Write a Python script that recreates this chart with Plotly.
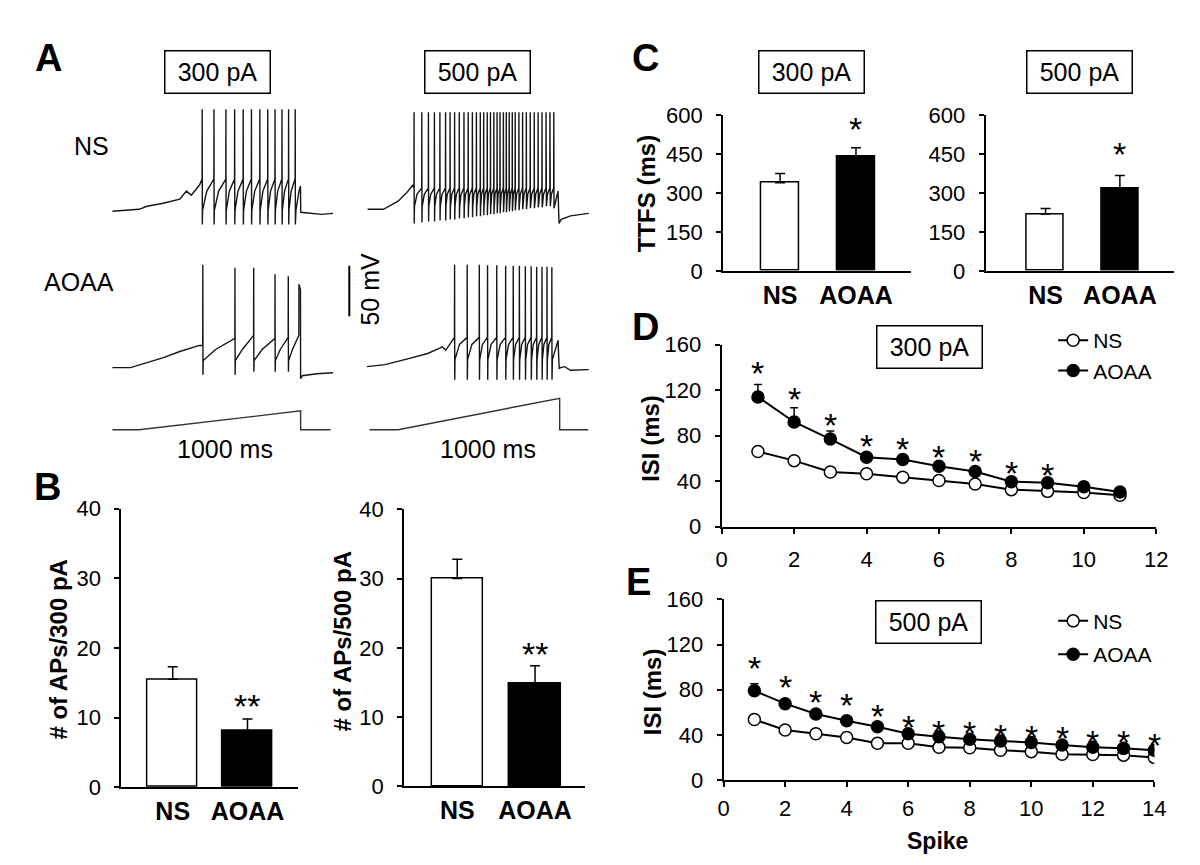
import plotly.graph_objects as go

W, H = 1200, 865
FONT = "Liberation Sans, Arial, sans-serif"

# ---------------- panel A : example traces (time in ms from ramp onset, mV) ----------------
ns300_pre_t = [-165, 0, 49, 150, 252, 293, 323, 374]
ns300_pre_v = [-65, -63, -60, -57, -53, -45, -49, -39]
ns300_spk_t = [390, 463, 537, 591, 644, 695, 747, 796, 841, 884, 925, 966]
ns300_post_t = [967.6, 971, 990, 999, 1001, 1060, 1130, 1201]
ns300_post_v = [-78, -64, -45, -40, -66, -67, -68, -67]

ns500_pre_t = [-189, -91, 0, 51, 91]
ns500_pre_v = [-63, -63, -55, -47, -39]
ns500_spk_t = [98, 146, 187, 224, 258, 293, 321, 349, 378, 407, 433, 459, 484, 508, 529,
               551, 571, 592, 612, 630, 651, 669, 687, 706, 724, 747, 770, 793, 817, 842,
               866, 890, 915, 939, 963]
ns500_trough = [-77, -76, -75, -75, -74, -74, -73, -73, -72, -72, -71, -71, -70, -70, -69,
                -69, -68, -68, -67, -67, -66, -66, -65, -65, -64, -64, -63, -63, -62, -62,
                -61, -61, -60, -60, -60]
ns500_post_t = [965, 990, 996, 1010, 1067, 1180]
ns500_post_v = [-62, -45, -77, -73, -69.5, -67]

aoaa300_pre_t = [-165, -53, 151, 252, 374]
aoaa300_pre_v = [-65, -65, -55, -49, -43]
aoaa300_spk_t = [394, 593, 709, 841, 923, 989]
aoaa300_thr = [-43, -36, -33, -36, -35, -33]
aoaa300_peak = [37, 34, 34, 27.6, 25.4, 17.7]
aoaa300_trough = [-72, -72, -69, -69, -69, -76]
aoaa300_post_t = [999, 1000, 1010, 1100, 1201]
aoaa300_post_v = [12, -76, -73, -71, -70]

aoaa500_pre_t = [-193, -81, 41, 183, 254, 274, 295, 335]
aoaa500_pre_v = [-64, -62, -57, -51, -46, -44.5, -47.7, -38]
aoaa500_spk_t = [349, 427, 502, 553, 610, 665, 712, 750, 787, 823, 857, 890, 921, 951]
aoaa500_peak = [37, 37, 37, 36.5, 36.5, 36, 36, 36, 35.5, 35.5, 35, 35, 35, 34.5]
aoaa500_post_t = [952.6, 955, 990, 997, 1005, 1030, 1067, 1180]
aoaa500_post_v = [-77, -57, -38, -66, -65, -64, -67.6, -67]

ramp_t300 = [-165, 0, 1000, 1000, 1185]
ramp_i300 = [0, 0, 300, 0, 0]
ramp_t500 = [-177, 0, 1000, 1000, 1177]
ramp_i500 = [0, 0, 500, 0, 0]

scale_bar_t = -302
scale_bar_base = -14
scale_bar_mv = 50

# ---------------- panel B : number of APs ----------------
groups = ["NS", "AOAA"]
aps300_mean = [15.5, 8.1]
aps300_err = [1.8, 1.7]
aps500_mean = [30.0, 14.9]
aps500_err = [2.8, 2.5]
aps300_star = 13.1
aps500_star = 20.5

# ---------------- panel C : time to first spike ----------------
ttfs300_mean = [340, 441]
ttfs300_err = [36, 34]
ttfs500_mean = [219, 320]
ttfs500_err = [22, 48]
ttfs300_star = 585
ttfs500_star = 490

# ---------------- panel D / E : ISI ----------------
d_spike = [1, 2, 3, 4, 5, 6, 7, 8, 9, 10, 11]
d_ns = [66, 58, 48, 46.5, 43.5, 40.5, 37.5, 32.5, 31, 30, 27.5]
d_ns_err = [2.5, 2, 2, 2, 2, 2, 2, 2, 1.5, 1.5, 1.5]
d_aoaa = [114, 92, 77, 61, 59, 53, 48.5, 39.5, 38.5, 35, 30.5]
d_aoaa_err = [11, 12.5, 7, 3, 3, 3.5, 3, 2.5, 2.5, 2, 2]
d_star = [143.8, 120.6, 97.9, 79.4, 77.4, 70.4, 66.1, 56.2, 53.9]

e_spike = [1, 2, 3, 4, 5, 6, 7, 8, 9, 10, 11, 12, 13, 14]
e_ns = [53.6, 44.4, 41, 37.8, 32.7, 32.7, 29, 28.7, 26.4, 25.2, 22.9, 22.7, 22.1, 20.1]
e_ns_err = [2, 2, 1.5, 1.5, 1.5, 1.5, 1.5, 1.5, 1.5, 1.5, 1.5, 1.5, 1.5, 1.5]
e_aoaa = [79.1, 67.7, 58.5, 52.5, 47.3, 41, 38.4, 36.1, 34.7, 33.3, 31, 29, 28.1, 26.4]
e_aoaa_err = [6.3, 3, 2.5, 2, 2, 2, 2, 2, 2, 2, 2, 2, 2, 2]
e_star = [107.8, 91.2, 78.3, 75.4, 65.4, 56.2, 51.6, 51, 48.2, 46.7, 46.2, 43, 42.4, 40.1]


def pick(v, i):
    return v[i] if isinstance(v, list) else v


def spike_trace(pre_t, pre_v, spk_t, thr, peak, trough, ahp, mid, post_t, post_v):
    # threshold -> peak -> trough -> after-hyperpolarisation -> recovery to next threshold
    t, v = list(pre_t), list(pre_v)
    for i, ts in enumerate(spk_t):
        t += [ts, ts + 0.6]
        v += [pick(thr, i), pick(peak, i)]
        if i + 1 < len(spk_t):
            nxt = spk_t[i + 1]
            t += [ts + 1.6, ts + 3, ts + 0.4 * (nxt - ts)]
            v += [pick(trough, i), ahp, mid]
    return t + list(post_t), v + list(post_v)


def dom_x(left, right):
    return [left / W, right / W]


def dom_y(top, bottom):
    return [1 - bottom / H, 1 - top / H]


fig = go.Figure()
trace_line = dict(color="#151515", width=1.4)

voltage = [
    ("x", "y", spike_trace(ns300_pre_t, ns300_pre_v, ns300_spk_t, -33, 36, -78, -64, -45,
                           ns300_post_t, ns300_post_v)),
    ("x2", "y2", spike_trace(ns500_pre_t, ns500_pre_v, ns500_spk_t, -42, 33, ns500_trough, -60, -48,
                             ns500_post_t, ns500_post_v)),
    ("x3", "y3", spike_trace(aoaa300_pre_t, aoaa300_pre_v, aoaa300_spk_t, aoaa300_thr, aoaa300_peak,
                             aoaa300_trough, -58, -47, aoaa300_post_t, aoaa300_post_v)),
    ("x4", "y4", spike_trace(aoaa500_pre_t, aoaa500_pre_v, aoaa500_spk_t, -35, aoaa500_peak, -77,
                             -57, -42, aoaa500_post_t, aoaa500_post_v)),
]
for xa, ya, (tt, vv) in voltage:
    fig.add_trace(go.Scatter(x=tt, y=vv, mode="lines", line=trace_line, xaxis=xa, yaxis=ya,
                             showlegend=False, hoverinfo="skip"))

fig.add_trace(go.Scatter(x=[scale_bar_t, scale_bar_t], y=[scale_bar_base, scale_bar_base + scale_bar_mv],
                         mode="lines", line=dict(color="black", width=2), xaxis="x4", yaxis="y4",
                         showlegend=False, hoverinfo="skip"))

for xa, ya, tt, ii in [("x5", "y5", ramp_t300, ramp_i300), ("x6", "y6", ramp_t500, ramp_i500)]:
    fig.add_trace(go.Scatter(x=tt, y=ii, mode="lines", line=dict(color="#333", width=1.4),
                             xaxis=xa, yaxis=ya, showlegend=False, hoverinfo="skip"))

# ---- bars ----
bar_sets = [
    ("x7", "y7", aps300_mean, aps300_err, 0.67),
    ("x8", "y8", aps500_mean, aps500_err, 0.66),
    ("x9", "y9", ttfs300_mean, ttfs300_err, 0.5),
    ("x10", "y10", ttfs500_mean, ttfs500_err, 0.5),
]
for xa, ya, mean, err, bw in bar_sets:
    fig.add_trace(go.Bar(
        x=[0, 1], y=mean, width=bw,
        marker=dict(color=["white", "black"], line=dict(color="black", width=1.5)),
        error_y=dict(type="data", array=err, arrayminus=[0, 0], symmetric=False,
                     color="black", thickness=1.5, width=5),
        xaxis=xa, yaxis=ya, showlegend=False, hoverinfo="skip",
    ))


# ---- ISI curves ----
def isi_traces(x, ns, ns_err, aoaa, aoaa_err, xa, ya, leg, gap_groups):
    common = dict(mode="lines+markers", xaxis=xa, yaxis=ya, legend=leg, hoverinfo="skip")
    fig.add_trace(go.Scatter(
        x=x, y=ns, name="NS", legendgroup=gap_groups[0],
        line=dict(color="black", width=2),
        marker=dict(symbol="circle", size=12, color="white", line=dict(color="black", width=1.5)),
        error_y=dict(type="data", array=ns_err, arrayminus=[0] * len(x), symmetric=False,
                     color="black", thickness=1.5, width=4),
        **common))
    fig.add_trace(go.Scatter(
        x=x, y=aoaa, name="AOAA", legendgroup=gap_groups[1],
        line=dict(color="black", width=2),
        marker=dict(symbol="circle", size=12, color="black", line=dict(color="black", width=1.5)),
        error_y=dict(type="data", array=aoaa_err, arrayminus=[0] * len(x), symmetric=False,
                     color="black", thickness=1.5, width=4),
        **common))


isi_traces(d_spike, d_ns, d_ns_err, d_aoaa, d_aoaa_err, "x11", "y11", "legend", ["dn", "da"])
isi_traces(e_spike, e_ns, e_ns_err, e_aoaa, e_aoaa_err, "x12", "y12", "legend2", ["en", "ea"])

# ---- axes ----
hidden = dict(visible=False, fixedrange=True, showgrid=False, zeroline=False)


def num_yaxis(dom, rng, dtick, anchor):
    return dict(domain=dom, range=rng, dtick=dtick, tick0=0, anchor=anchor,
                showline=True, linecolor="black", linewidth=2,
                ticks="outside", ticklen=5, tickwidth=2, tickcolor="black",
                showgrid=False, zeroline=False, ticklabelstandoff=9,
                tickfont=dict(family=FONT, size=22, color="black"))


def cat_xaxis(dom, rng, anchor):
    return dict(domain=dom, range=rng, anchor=anchor, tickvals=[0, 1], ticktext=groups,
                showline=True, linecolor="black", linewidth=2, ticks="",
                showgrid=False, zeroline=False, ticklabelstandoff=1,
                tickfont=dict(family=FONT, size=25, color="black", weight="bold"))


def num_xaxis(dom, rng, anchor, standoff):
    return dict(domain=dom, range=rng, dtick=2, tick0=0, anchor=anchor,
                showline=True, linecolor="black", linewidth=2,
                ticks="outside", ticklen=5, tickwidth=2, tickcolor="black",
                showgrid=False, zeroline=False, ticklabelstandoff=standoff,
                tickfont=dict(family=FONT, size=22, color="black"))


layout_axes = dict(
    xaxis=dict(domain=dom_x(95, 324.6), range=[-195, 1205], anchor="y", **hidden),
    yaxis=dict(domain=dom_y(82.6, 217.8), range=[-85, 45], anchor="x", **hidden),
    xaxis2=dict(domain=dom_x(358, 587.6), range=[-195, 1205], anchor="y2", **hidden),
    yaxis2=dict(domain=dom_y(82.6, 217.8), range=[-85, 45], anchor="x2", **hidden),
    xaxis3=dict(domain=dom_x(95, 324.6), range=[-195, 1205], anchor="y3", **hidden),
    yaxis3=dict(domain=dom_y(243.6, 378.8), range=[-85, 45], anchor="x3", **hidden),
    xaxis4=dict(domain=dom_x(335, 587.6), range=[-335, 1205], anchor="y4", **hidden),
    yaxis4=dict(domain=dom_y(243.6, 378.8), range=[-85, 45], anchor="x4", **hidden),
    xaxis5=dict(domain=dom_x(95, 324.6), range=[-195, 1205], anchor="y5", **hidden),
    yaxis5=dict(domain=dom_y(388.2, 423.3), range=[-20, 520], anchor="x5", **hidden),
    xaxis6=dict(domain=dom_x(358, 587.6), range=[-195, 1205], anchor="y6", **hidden),
    yaxis6=dict(domain=dom_y(388.2, 423.3), range=[-20, 520], anchor="x6", **hidden),
    xaxis7=cat_xaxis(dom_x(109, 288.5), [-0.687, 1.678], "y7"),
    yaxis7=num_yaxis(dom_y(503.3, 790), [0, 40], 10, "x7"),
    xaxis8=cat_xaxis(dom_x(396, 580), [-0.684, 1.646], "y8"),
    yaxis8=num_yaxis(dom_y(504, 789), [0, 40], 10, "x8"),
    xaxis9=cat_xaxis(dom_x(720, 910.8), [-0.75, 1.727], "y9"),
    yaxis9=num_yaxis(dom_y(98.3, 258.3), [0, 600], 150, "x9"),
    xaxis10=cat_xaxis(dom_x(986.5, 1178), [-0.806, 1.733], "y10"),
    yaxis10=num_yaxis(dom_y(98.3, 258.3), [0, 600], 150, "x10"),
    xaxis11=num_xaxis(dom_x(718.5, 1159.6), [0, 12], "y11", 7),
    yaxis11=num_yaxis(dom_y(334.3, 521.7), [0, 160], 40, "x11"),
    xaxis12=num_xaxis(dom_x(720.4, 1157.7), [0, 14], "y12", 3),
    yaxis12=num_yaxis(dom_y(596.7, 782.7), [0, 160], 40, "x12"),
)

# ---- text ----
ann = []


def label(px, py, text, size, bold=False, angle=0, box=False):
    a = dict(x=px / W, y=1 - py / H, xref="paper", yref="paper", text=text, showarrow=False,
             xanchor="center", yanchor="middle", textangle=angle,
             font=dict(family=FONT, size=size, color="black", weight="bold" if bold else "normal"))
    if box:
        a.update(bordercolor="black", borderwidth=1.5, borderpad=6, width=92, height=29,
                 bgcolor="white")
    ann.append(a)


for letter, lx, ly in [("A", 35, 39), ("B", 34, 481), ("C", 641, 39), ("D", 641, 316), ("E", 634, 579)]:
    label(lx, ly, letter, 38, bold=True)

for txt, bx, by in [("300 pA", 207, 53.5), ("500 pA", 471, 53.5), ("300 pA", 810, 53.5),
                    ("500 pA", 1082, 53.5), ("300 pA", 929, 336.7), ("500 pA", 928.5, 619.7)]:
    label(bx, by, txt, 25, box=True)

label(79, 130, "NS", 25)
label(66, 270, "AOAA", 25)
label(214, 442, "1000 ms", 25)
label(481, 442, "1000 ms", 25)
label(361, 277, "50 mV", 25, angle=-90)

label(45, 648, "# of APs/300 pA", 24, bold=True, angle=-90)
label(333, 640, "# of APs/500 pA", 24, bold=True, angle=-90)
label(642, 179, "TTFS (ms)", 24, bold=True, angle=-90)
label(646, 431, "ISI (ms)", 24, bold=True, angle=-90)
label(648, 692, "ISI (ms)", 24, bold=True, angle=-90)
label(938, 845, "Spike", 23, bold=True)


def stars(xa, ya, xs, ys, text):
    for sx, sy in zip(xs, ys):
        ann.append(dict(x=sx, y=sy, xref=xa, yref=ya, text=text, showarrow=False,
                        xanchor="center", yanchor="middle", yshift=-10,
                        font=dict(family=FONT, size=34, color="black")))


stars("x7", "y7", [1], [aps300_star], "**")
stars("x8", "y8", [1], [aps500_star], "**")
stars("x9", "y9", [1], [ttfs300_star], "*")
stars("x10", "y10", [1], [ttfs500_star], "*")
stars("x11", "y11", d_spike[:len(d_star)], d_star, "*")
stars("x12", "y12", e_spike, e_star, "*")

legend_style = dict(xanchor="left", yanchor="top", bgcolor="rgba(0,0,0,0)", borderwidth=0,
                    font=dict(family=FONT, size=21, color="black"), traceorder="grouped",
                    itemclick=False, itemdoubleclick=False)

fig.update_layout(
    width=W, height=H,
    margin=dict(l=0, r=0, t=0, b=0),
    paper_bgcolor="white", plot_bgcolor="white",
    annotations=ann,
    legend=dict(x=1055 / W, y=1 - 309 / H, tracegroupgap=0, **legend_style),
    legend2=dict(x=1055 / W, y=1 - 598 / H, tracegroupgap=3, **legend_style),
    bargap=0,
    **layout_axes,
)

fig.write_html("out.html")
